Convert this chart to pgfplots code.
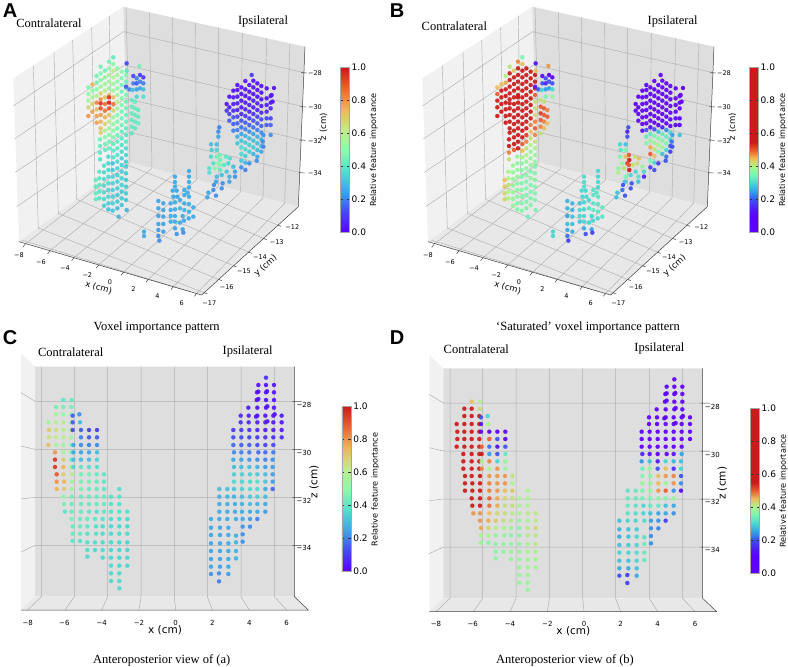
\documentclass[border=0pt]{standalone}
\usepackage{fontspec}
\setmainfont{DejaVu Sans}
\newfontfamily\capfont{Liberation Serif}
\newfontfamily\letterfont{Liberation Sans}
\usepackage{pgfplots}
\usepackage{pgfplotstable}
\pgfplotsset{compat=1.18}

\pgfplotsset{
  colormap={rainbowA}{rgb255=(90,0,255) rgb255=(70,70,250) rgb255=(60,165,230) rgb255=(80,225,205) rgb255=(140,250,170) rgb255=(195,235,140) rgb255=(240,180,90) rgb255=(235,100,50) rgb255=(205,25,25)},
  colormap={rainbowB}{rgb255=(95,0,255) rgb255=(95,0,255) rgb255=(90,0,255) rgb255=(80,30,250) rgb255=(60,80,245) rgb255=(50,160,230) rgb255=(70,215,210) rgb255=(120,245,180) rgb255=(170,245,140) rgb255=(235,190,90) rgb255=(235,90,50) rgb255=(205,25,25) rgb255=(205,25,25) rgb255=(205,25,25) rgb255=(205,25,25) rgb255=(205,25,25) rgb255=(205,25,25) rgb255=(205,25,25) rgb255=(205,25,25) rgb255=(205,25,25) rgb255=(205,25,25)},
}
\definecolor{wallL}{gray}{0.945}
\definecolor{wallB}{gray}{0.87}
\definecolor{wallF}{gray}{0.91}
\definecolor{gridc}{gray}{0.69}
\definecolor{axisc}{gray}{0.25}

% panels A and B: voxel positions on the picture, value in A, value in B
\pgfplotstableread[row sep=\\]{px py a b\\
265 262 .48 .45\\ 265 282 .5 .5\\ 265 302 .55 .55\\ 265 322 .68 .6\\ 265 348 .8 .6\\
277 253 .75 .45\\ 277 272 .5 .55\\ 277 292 .58 .6\\ 277 312 .68 .6\\ 277 335 .78 .6\\
290 228 .45 .4\\ 290 248 .45 .46\\ 290 268 .5 .6\\ 290 288 .6 .6\\ 290 308 .82 .6\\ 290 328 .72 .6\\ 290 348 .78 .6\\ 290 368 .78 .6\\
302 200 .45 .42\\ 302 220 .48 .6\\ 302 240 .5 .6\\ 302 260 .55 .6\\ 302 280 .68 .6\\ 302 298 .8 .6\\ 302 310 .95 .6\\ 302 325 .9 .6\\ 302 345 .78 .6\\ 302 365 .75 .6\\ 302 385 .72 .6\\ 302 398 .7 .6\\
315 212 .45 .44\\ 315 232 .52 .6\\ 315 252 .55 .6\\ 315 272 .6 .6\\ 315 292 .72 .6\\ 315 312 .85 .6\\ 315 332 .85 .6\\ 315 352 .75 .6\\ 315 372 .68 .6\\ 315 392 .58 .6\\ 315 412 .5 .6\\ 315 432 .45 .6\\ 315 450 .42 .5\\
327 185 .45 .48\\ 327 205 .52 .6\\ 327 225 .58 .6\\ 327 245 .55 .6\\ 327 265 .55 .6\\ 327 285 .72 .6\\ 327 292 .95 .6\\ 327 308 .98 .6\\ 327 325 .9 .6\\ 327 345 .72 .6\\ 327 365 .62 .6\\ 327 385 .55 .6\\ 327 405 .5 .6\\ 327 425 .45 .6\\ 327 445 .42 .6\\
340 172 .42 .35\\ 340 192 .5 .45\\ 340 212 .62 .6\\ 340 232 .58 .6\\ 340 252 .55 .6\\ 340 272 .55 .6\\ 340 292 .72 .6\\ 340 312 .85 .6\\ 340 332 .68 .6\\ 340 352 .55 .6\\ 340 372 .52 .6\\ 340 392 .5 .6\\ 340 412 .48 .55\\ 340 432 .42 .5\\ 340 452 .4 .45\\ 340 472 .38 .4\\
352 205 .5 .6\\ 352 225 .55 .6\\ 352 245 .5 .6\\ 352 265 .5 .6\\ 352 285 .55 .6\\ 352 305 .6 .6\\ 352 325 .55 .6\\ 352 345 .5 .6\\ 352 365 .48 .6\\ 352 385 .46 .6\\ 352 405 .44 .52\\ 352 425 .42 .48\\ 352 445 .4 .42\\ 352 465 .38 .4\\ 352 485 .36 .38\\ 352 505 .35 .38\\
365 215 .5 .6\\ 365 235 .48 .6\\ 365 255 .46 .6\\ 365 275 .45 .6\\ 365 295 .48 .6\\ 365 315 .48 .6\\ 365 335 .46 .6\\ 365 355 .45 .55\\ 365 375 .45 .48\\ 365 395 .42 .45\\ 365 415 .4 .42\\ 365 435 .38 .4\\ 365 455 .36 .38\\ 365 475 .34 .38\\ 365 495 .34 .38\\ 365 515 .34 .36\\ 365 535 .35 .38\\
378 225 .48 .6\\ 378 245 .45 .55\\ 378 265 .45 .55\\ 378 285 .46 .5\\ 378 305 .45 .42\\ 378 325 .45 .42\\ 378 345 .44 .42\\ 378 365 .44 .48\\ 378 385 .42 .5\\ 378 405 .4 .48\\ 378 425 .4 .42\\ 378 445 .36 .4\\ 378 465 .35 .38\\ 378 485 .34 .38\\
395 300 .42 .42\\ 395 320 .42 .5\\ 395 340 .42 .52\\ 395 360 .42 .5\\ 395 380 .42 .48\\ 395 400 .4 .42\\
405 305 .42 .42\\ 405 325 .42 .5\\ 405 345 .42 .5\\ 405 365 .42 .48\\ 405 385 .4 .45\\
415 330 .42 .48\\ 415 350 .42 .5\\ 415 370 .42 .45\\
380 190 .12 .12\\ 380 212 .4 .45\\ 418 198 .45 .47\\ 400 228 .12 .12\\ 410 235 .2 .2\\ 420 225 .1 .1\\ 430 232 .1 .1\\
378 260 .15 .15\\ 388 268 .2 .2\\ 400 250 .2 .2\\ 410 250 .15 .15\\ 420 245 .2 .2\\ 430 250 .2 .2\\ 398 270 .3 .3\\ 410 268 .25 .25\\ 420 265 .25 .25\\ 430 268 .3 .3\\ 410 290 .35 .35\\ 430 290 .38 .38\\
287 540 .42 .45\\ 287 560 .42 .44\\ 287 580 .42 .43\\ 287 598 .42 .43\\
300 418 .45 .6\\ 300 438 .42 .6\\ 300 458 .4 .48\\ 300 478 .38 .42\\
298 515 .4 .4\\ 298 535 .4 .4\\ 298 555 .4 .42\\ 298 575 .38 .4\\ 298 595 .38 .4\\
312 497 .37 .38\\ 312 517 .36 .38\\ 312 537 .36 .38\\ 312 557 .37 .38\\ 312 577 .36 .38\\ 312 597 .36 .38\\ 312 617 .34 .38\\
325 470 .36 .38\\ 325 490 .35 .38\\ 325 510 .36 .38\\ 325 530 .36 .38\\ 325 550 .36 .37\\ 325 570 .35 .37\\ 325 590 .35 .37\\ 325 610 .34 .36\\ 325 628 .3 .36\\
338 490 .3 .36\\ 338 510 .32 .36\\ 338 530 .35 .36\\ 338 550 .34 .36\\ 338 570 .34 .36\\ 338 590 .34 .36\\ 338 610 .34 .36\\ 338 632 .32 .36\\
352 525 .34 .37\\ 352 545 .34 .36\\ 352 565 .34 .36\\ 352 585 .33 .36\\ 352 605 .33 .36\\ 352 625 .3 .36\\ 356 650 .28 .34\\
365 555 .34 .36\\ 365 575 .33 .36\\ 365 595 .33 .36\\ 365 615 .32 .36\\
378 500 .33 .36\\ 378 520 .33 .36\\ 378 540 .33 .36\\ 378 560 .33 .36\\ 378 580 .33 .36\\ 378 600 .32 .36\\ 380 630 .28 .35\\
680 312 .04 .02\\ 680 332 .1 .03\\
688 290 .03 .02\\ 688 322 .05 .02\\ 688 342 .12 .03\\ 688 362 .15 .03\\
700 272 .03 .02\\ 700 292 .05 .02\\ 700 312 .05 .02\\ 700 332 .08 .02\\ 700 352 .14 .03\\ 700 372 .16 .05\\ 700 392 .2 .12\\
712 255 .03 .02\\ 712 270 .03 .02\\ 712 290 .04 .02\\ 712 310 .05 .02\\ 712 330 .06 .02\\ 712 350 .12 .03\\ 712 370 .16 .05\\ 712 390 .2 .2\\ 712 410 .27 .33\\ 712 430 .32 .36\\
724 262 .03 .02\\ 724 282 .03 .02\\ 724 302 .04 .02\\ 724 322 .05 .02\\ 724 342 .08 .03\\ 724 362 .14 .03\\ 724 382 .18 .12\\ 724 402 .25 .33\\ 724 422 .32 .38\\ 724 442 .36 .46\\ 724 462 .36 .5\\ 724 482 .32 .35\\ 724 502 .22 .18\\
736 243 .03 .02\\ 736 268 .03 .02\\ 736 288 .03 .02\\ 736 308 .05 .02\\ 736 328 .06 .02\\ 736 348 .1 .03\\ 736 368 .15 .03\\ 736 388 .2 .2\\ 736 408 .28 .35\\ 736 428 .33 .38\\ 736 448 .36 .42\\ 736 468 .33 .45\\ 736 488 .28 .3\\ 736 510 .2 .2\\
748 255 .03 .02\\ 748 275 .03 .02\\ 748 295 .03 .02\\ 748 315 .05 .02\\ 748 335 .06 .02\\ 748 355 .12 .03\\ 748 375 .16 .08\\ 748 395 .22 .28\\ 748 415 .3 .36\\ 748 435 .34 .4\\ 748 455 .33 .36\\ 748 490 .22 .18\\
755 225 .1 .03\\
760 242 .03 .02\\ 760 262 .03 .02\\ 760 282 .03 .02\\ 760 302 .05 .02\\ 760 322 .05 .02\\ 760 342 .09 .03\\ 760 362 .14 .03\\ 760 382 .18 .15\\ 760 402 .25 .33\\ 760 422 .3 .36\\ 760 442 .33 .38\\ 760 462 .28 .28\\
772 250 .03 .02\\ 772 270 .03 .02\\ 772 290 .03 .02\\ 772 310 .05 .02\\ 772 330 .06 .02\\ 772 350 .11 .03\\ 772 370 .15 .05\\ 772 390 .2 .24\\ 772 410 .27 .33\\ 772 430 .3 .35\\ 772 450 .3 .3\\ 772 470 .25 .22\\ 770 482 .22 .2\\
784 258 .03 .02\\ 784 278 .03 .02\\ 784 298 .04 .02\\ 784 318 .05 .02\\ 784 338 .08 .03\\ 784 358 .13 .03\\ 784 378 .16 .1\\ 784 398 .22 .3\\ 784 418 .28 .3\\ 784 438 .28 .2\\ 784 455 .25 .18\\
800 265 .03 .02\\ 800 295 .04 .02\\ 800 315 .05 .02\\ 800 335 .07 .03\\ 800 355 .12 .03\\ 800 375 .15 .08\\ 790 405 .22 .25\\ 788 425 .22 .22\\ 790 440 .2 .2\\
812 288 .04 .02\\ 812 308 .05 .02\\ 812 325 .06 .02\\ 812 355 .12 .05\\ 812 375 .16 .1\\ 812 405 .22 .28\\
822 264 .03 .02\\ 818 305 .04 .02\\ 815 285 .04 .02\\
658 382 .2 .2\\ 655 395 .22 .15\\ 655 410 .25 .2\\ 650 433 .3 .28\\ 633 433 .3 .3\\ 635 450 .33 .32\\ 650 450 .35 .35\\ 633 470 .36 .36\\ 650 470 .45 .45\\ 660 465 .45 .5\\ 661 480 .45 .58\\ 655 490 .5 .52\\ 640 490 .38 .38\\ 628 505 .38 .38\\ 628 518 .38 .4\\ 645 505 .48 .42\\ 660 495 .48 .5\\ 661 510 .42 .58\\ 672 495 .4 .42\\ 650 530 .3 .35\\ 648 545 .25 .28\\ 642 555 .22 .2\\ 665 525 .3 .3\\ 668 550 .22 .2\\ 665 565 .22 .2\\ 625 578 .25 .28\\ 622 592 .25 .28\\ 648 587 .22 .2\\ 640 570 .22 .22\\ 680 515 .32 .3\\ 688 530 .28 .32\\ 688 545 .25 .28\\ 705 530 .22 .15\\ 705 515 .25 .3\\ 685 490 .35 .42\\ 690 475 .37 .45\\ 678 470 .4 .42\\ 700 500 .3 .38\\
567 513 .26 .3\\ 567 530 .26 .3\\ 567 546 .26 .3\\ 567 562 .26 .3\\ 525 530 .26 .31\\ 525 546 .26 .31\\ 525 560 .26 .31\\
518 572 .25 .3\\ 530 572 .25 .3\\ 553 570 .26 .32\\ 563 578 .26 .32\\ 553 585 .26 .32\\ 567 590 .26 .32\\ 520 590 .25 .3\\ 532 590 .25 .3\\ 475 603 .25 .27\\ 490 610 .25 .27\\ 512 610 .26 .28\\ 525 607 .26 .3\\ 540 600 .26 .3\\ 553 610 .26 .32\\ 567 612 .27 .32\\ 580 622 .27 .33\\
475 625 .25 .27\\ 490 630 .25 .27\\ 512 630 .26 .3\\ 525 628 .26 .3\\ 540 625 .28 .32\\ 553 630 .28 .33\\ 567 635 .27 .32\\ 580 650 .26 .32\\ 548 648 .26 .3\\ 566 655 .26 .3\\
475 648 .25 .25\\ 490 650 .25 .28\\ 512 648 .26 .3\\ 525 648 .26 .3\\ 512 665 .26 .28\\ 525 665 .26 .3\\ 540 668 .26 .3\\ 552 662 .26 .3\\ 490 672 .25 .28\\ 475 672 .25 .28\\
475 690 .24 .26\\ 490 695 .24 .26\\ 525 685 .25 .26\\ 548 688 .25 .25\\ 530 702 .23 .2\\ 550 698 .22 .18\\ 432 695 .26 .3\\ 432 708 .26 .3\\ 475 708 .22 .22\\ 478 722 .22 .18\\
}\tabab

% panels C and D: positions, value in C, value in D
\pgfplotstableread[row sep=\\]{px py c d\\
190 195 .4 .45\\ 215 195 .42 .4\\
168 216 .45 .72\\ 190 216 .45 .75\\ 214 216 .45 .42\\
168 238 .55 .9\\ 190 238 .5 .9\\ 213 238 .5 .75\\ 238 238 .22 .3\\ 218 242 .15 .2\\
145 262 .55 .9\\ 168 262 .6 .9\\ 190 262 .6 .9\\ 213 262 .55 .85\\ 240 262 .3 .4\\ 218 262 .15 .15\\
147 285 .7 .9\\ 168 285 .65 .9\\ 190 285 .6 .9\\ 213 285 .6 .9\\ 218 285 .12 .12\\ 243 285 .15 .05\\ 267 285 .1 .05\\ 291 285 .1 .05\\
147 307 .65 .9\\ 168 307 .62 .9\\ 190 307 .6 .9\\ 213 307 .55 .9\\ 243 307 .2 .5\\ 267 307 .15 .2\\ 291 307 .15 .1\\
145 330 .72 .9\\ 168 330 .55 .9\\ 190 330 .55 .9\\ 213 330 .5 .9\\ 220 330 .25 .5\\ 243 330 .22 .22\\ 267 330 .2 .12\\ 291 330 .22 .2\\
165 352 .8 .9\\ 190 352 .55 .9\\ 213 352 .5 .9\\ 220 352 .25 .55\\ 243 352 .25 .25\\ 267 352 .25 .2\\ 291 352 .3 .33\\
165 374 .95 .9\\ 190 374 .7 .9\\ 213 374 .45 .9\\ 220 374 .3 .4\\ 243 374 .3 .48\\ 267 374 .3 .3\\ 291 374 .35 .38\\
165 396 .95 .9\\ 190 396 .75 .9\\ 213 396 .6 .9\\ 220 396 .35 .48\\ 243 396 .4 .4\\ 267 396 .38 .47\\ 291 396 .38 .38\\
170 418 .9 .9\\ 190 418 .7 .9\\ 215 418 .6 .9\\ 243 418 .45 .47\\ 267 418 .45 .47\\ 290 418 .42 .47\\ 312 418 .4 .42\\
170 440 .8 .9\\ 192 440 .75 .9\\ 215 440 .55 .9\\ 243 440 .45 .48\\ 267 440 .45 .47\\ 290 440 .42 .47\\ 312 440 .4 .4\\
170 462 .75 .9\\ 192 462 .7 .9\\ 215 462 .55 .9\\ 243 462 .45 .48\\ 267 462 .42 .47\\ 290 462 .42 .45\\ 312 462 .4 .44\\ 358 462 .38 .4\\
190 485 .5 .9\\ 215 485 .45 .9\\ 243 485 .42 .5\\ 267 485 .42 .46\\ 290 485 .42 .43\\ 312 485 .42 .42\\ 333 485 .38 .4\\ 358 485 .38 .4\\
192 507 .45 .6\\ 215 507 .42 .55\\ 243 507 .42 .49\\ 267 507 .42 .46\\ 290 507 .42 .42\\ 312 507 .42 .42\\ 333 507 .38 .4\\ 358 507 .38 .4\\
195 530 .4 .47\\ 215 530 .42 .47\\ 243 530 .42 .45\\ 267 530 .4 .43\\ 290 530 .38 .42\\ 312 530 .4 .41\\ 333 530 .38 .4\\ 358 530 .38 .41\\ 382 530 .38 .41\\
215 552 .45 .47\\ 240 552 .42 .46\\ 262 552 .42 .44\\ 285 552 .4 .42\\ 308 552 .38 .41\\ 333 552 .36 .38\\ 358 552 .36 .4\\ 382 552 .36 .41\\
218 574 .42 .46\\ 240 574 .42 .43\\ 262 574 .4 .41\\ 288 574 .38 .4\\ 308 574 .36 .38\\ 333 574 .35 .36\\ 358 574 .35 .41\\ 382 574 .35 .43\\
218 596 .42 .4\\ 240 596 .42 .4\\ 262 596 .38 .38\\ 288 596 .38 .38\\ 308 596 .36 .36\\ 333 596 .35 .37\\ 358 596 .36 .41\\ 382 596 .36 .41\\
218 618 .4 .38\\ 240 618 .38 .36\\ 262 622 .38 .37\\ 285 622 .37 .37\\ 308 622 .36 .37\\ 333 622 .35 .37\\ 358 622 .35 .4\\ 382 622 .35 .41\\
262 645 .37 .37\\ 285 645 .36 .37\\ 308 645 .36 .38\\ 333 645 .35 .38\\ 358 645 .35 .4\\ 382 645 .35 .4\\
262 665 .36 .37\\ 308 668 .36 .38\\ 333 668 .35 .38\\ 358 668 .35 .39\\ 382 668 .35 .39\\
333 692 .36 .38\\ 358 692 .35 .39\\ 382 692 .35 .39\\
333 715 .36 .38\\ 358 715 .36 .39\\
333 738 .36 .38\\ 358 738 .36 .38\\
358 760 .36 .38\\
798 128 .08 .02\\
775 150 .03 .02\\ 798 150 .03 .02\\ 822 150 .04 .02\\
771 172 .03 .02\\ 775 170 .03 .02\\ 798 172 .03 .02\\ 801 169 .03 .02\\ 822 172 .03 .02\\
770 195 .03 .02\\ 775 192 .03 .02\\ 798 195 .03 .02\\ 822 195 .03 .02\\
745 218 .05 .02\\ 772 218 .03 .02\\ 798 218 .03 .02\\ 802 214 .03 .02\\ 822 218 .03 .02\\
722 242 .07 .02\\ 746 242 .05 .02\\ 772 242 .04 .02\\ 796 242 .03 .02\\ 820 242 .03 .02\\ 845 242 .04 .02\\ 768 245 .04 .02\\ 824 238 .03 .02\\
722 262 .09 .02\\ 746 262 .07 .02\\ 772 262 .05 .02\\ 796 262 .04 .02\\ 802 259 .04 .02\\ 820 262 .04 .02\\ 845 262 .04 .02\\
700 285 .1 .02\\ 724 285 .1 .02\\ 748 285 .09 .02\\ 772 285 .07 .02\\ 796 285 .05 .02\\ 820 285 .05 .02\\ 845 285 .05 .02\\
700 307 .13 .02\\ 724 307 .13 .02\\ 748 307 .12 .02\\ 772 307 .1 .02\\ 796 307 .08 .02\\ 820 307 .07 .02\\ 845 307 .08 .02\\
700 330 .17 .03\\ 724 330 .16 .03\\ 748 330 .15 .03\\ 772 330 .13 .03\\ 796 330 .11 .03\\ 820 330 .12 .03\\
702 352 .21 .15\\ 724 352 .2 .12\\ 748 352 .19 .06\\ 775 352 .17 .05\\ 796 352 .17 .12\\ 820 352 .19 .25\\
700 374 .26 .24\\ 724 374 .25 .28\\ 748 374 .24 .14\\ 772 374 .22 .3\\ 796 374 .2 .27\\ 818 374 .22 .28\\
702 396 .3 .34\\ 724 396 .3 .38\\ 748 396 .3 .2\\ 772 396 .28 .45\\ 796 396 .24 .16\\ 818 396 .24 .3\\
702 418 .34 .36\\ 726 418 .34 .37\\ 750 418 .34 .45\\ 772 418 .33 .47\\ 796 418 .3 .48\\ 818 418 .24 .2\\
702 440 .36 .38\\ 726 440 .35 .38\\ 750 440 .36 .45\\ 772 440 .38 .38\\ 796 440 .32 .47\\ 818 440 .24 .24\\
658 462 .3 .32\\ 682 462 .3 .33\\ 702 462 .32 .35\\ 726 462 .34 .38\\ 750 462 .36 .47\\ 772 462 .36 .5\\ 796 462 .26 .24\\ 818 462 .16 .12\\
658 485 .27 .33\\ 682 485 .28 .33\\ 702 485 .28 .34\\ 726 485 .3 .35\\ 750 485 .32 .37\\ 772 485 .34 .36\\ 796 485 .3 .38\\
658 507 .27 .33\\ 682 507 .27 .32\\ 705 507 .26 .3\\ 726 507 .28 .33\\ 750 507 .3 .33\\ 772 507 .28 .28\\ 796 507 .26 .26\\
658 530 .26 .32\\ 682 530 .26 .31\\ 705 530 .26 .3\\ 726 530 .26 .28\\ 750 530 .26 .26\\ 772 530 .26 .26\\ 796 530 .24 .24\\
633 552 .26 .28\\ 658 552 .26 .3\\ 682 552 .26 .3\\ 708 552 .27 .31\\ 728 552 .25 .25\\ 750 552 .24 .24\\ 772 552 .2 .18\\
633 578 .25 .27\\ 660 578 .25 .28\\ 685 578 .26 .29\\ 728 575 .23 .24\\ 750 575 .22 .23\\
633 600 .25 .26\\ 660 600 .25 .28\\ 685 600 .26 .3\\ 708 602 .28 .32\\ 728 598 .22 .24\\
633 625 .25 .28\\ 660 625 .25 .29\\ 685 625 .26 .3\\ 708 622 .28 .33\\ 728 620 .22 .24\\
633 648 .25 .3\\ 660 648 .25 .3\\ 685 648 .26 .31\\ 708 648 .28 .33\\
633 672 .25 .28\\ 660 672 .25 .28\\ 685 672 .26 .3\\ 708 670 .28 .33\\
633 695 .25 .26\\ 660 695 .24 .26\\ 685 695 .26 .28\\
633 717 .23 .2\\ 657 715 .22 .18\\ 685 717 .24 .26\\
657 739 .2 .18\\
}\tabcd

% 3D box A/B, segments split by nan
\pgfplotstableread[row sep=\\]{x y\\
378 22\\ 390 487\\ nan nan\\ 448 37\\ 456 505\\ nan nan\\ 517 52\\ 522 522\\ nan nan\\ 587 68\\ 589 540\\ nan nan\\ 656 83\\ 656 558\\ nan nan\\ 727 99\\ 722 576\\ nan nan\\ 800 115\\ 789 594\\ nan nan\\ 870 130\\ 854 610\\ nan nan\\
40 318\\ 371 95\\ 913 218\\ nan nan\\ 43 417\\ 374 195\\ 909 320\\ nan nan\\ 46 517\\ 376 295\\ 907 420\\ nan nan\\ 50 620\\ 380 395\\ 902 518\\ nan nan\\
100 197\\ 115 684\\ 612 878\\ nan nan\\ 162 155\\ 175 640\\ 655 838\\ nan nan\\ 218 120\\ 230 598\\ 700 797\\ nan nan\\ 275 82\\ 285 560\\ 745 756\\ nan nan\\ 328 48\\ 335 520\\ 790 715\\ nan nan\\ 65 720\\ 570 875\\ nan nan\\ 370 490\\ 833 675\\ nan nan\\
75 733\\ 390 487\\ nan nan\\ 150 752\\ 456 505\\ nan nan\\ 222 773\\ 522 522\\ nan nan\\ 296 795\\ 589 540\\ nan nan\\ 370 817\\ 656 558\\ nan nan\\ 445 838\\ 722 576\\ nan nan\\ 520 860\\ 789 594\\ nan nan\\ 590 880\\ 854 610\\
}\gridab
\pgfplotstableread[row sep=\\]{x y\\
57 725\\ 605 885\\ 895 620\\ 915 140\\ nan nan\\ 903 218\\ 920 219\\ nan nan\\ 901 320\\ 918 321\\ nan nan\\ 899 420\\ 916 421\\ nan nan\\ 897 518\\ 914 519\\ nan nan\\
75 733\\ 68 742\\ nan nan\\ 150 752\\ 143 761\\ nan nan\\ 222 773\\ 215 782\\ nan nan\\ 296 795\\ 289 804\\ nan nan\\ 370 817\\ 363 826\\ nan nan\\ 445 838\\ 438 847\\ nan nan\\ 520 860\\ 513 869\\ nan nan\\ 590 880\\ 583 889\\ nan nan\\
612 878\\ 622 882\\ nan nan\\ 655 838\\ 665 842\\ nan nan\\ 700 797\\ 710 801\\ nan nan\\ 745 756\\ 755 760\\ nan nan\\ 790 715\\ 800 719\\ nan nan\\ 833 675\\ 843 679\\
}\axab
% box C/D
\pgfplotstableread[row sep=\\]{x y\\
125 95\\ 125 785\\ 83 825\\ nan nan\\ 223 95\\ 223 785\\ 195 825\\ nan nan\\ 323 95\\ 323 785\\ 305 825\\ nan nan\\ 423 95\\ 423 785\\ 417 825\\ nan nan\\ 523 95\\ 523 785\\ 527 825\\ nan nan\\ 622 95\\ 622 785\\ 637 825\\ nan nan\\ 723 95\\ 723 785\\ 748 825\\ nan nan\\ 823 95\\ 823 785\\ 860 825\\ nan nan\\
63 173\\ 105 199\\ 883 199\\ nan nan\\ 63 333\\ 105 343\\ 883 343\\ nan nan\\ 63 492\\ 105 487\\ 883 487\\ nan nan\\ 63 651\\ 105 631\\ 883 631\\
}\gridcd
\pgfplotstableread[row sep=\\]{x y\\
63 825\\ 925 825\\ 883 785\\ 883 95\\ nan nan\\ 877 199\\ 905 199\\ nan nan\\ 877 343\\ 905 343\\ nan nan\\ 877 487\\ 905 487\\ nan nan\\ 877 631\\ 905 631\\
}\axcd

\newcommand{\fs}[1]{\fontsize{#1}{#1}\selectfont}
\tikzset{
  tk/.style={font=\fs{6.5}, inner sep=0pt},
  lb/.style={font=\fs{8.5}, inner sep=0pt},
  captxt/.style={font=\capfont\fs{12.5}, inner sep=0pt},
}
\pgfplotsset{
  panel/.style={
    scale only axis, width=400pt, height=335pt, anchor=north west,
    xmin=0, xmax=1200, ymin=0, ymax=1005, y dir=reverse,
    hide axis, clip=false, unbounded coords=jump,
    point meta min=0, point meta max=1,
    colorbar, 
    colorbar style={
      at={(parent axis.north west)}, anchor=north west, width=9pt, height=165pt,
      ytick={0,0.2,0.4,0.6,0.8,1}, ylabel={},
      /pgf/number format/fixed, /pgf/number format/fixed zerofill, /pgf/number format/precision=1,
      /pgf/number format/assume math mode=true,
      tick label style={font=\fs{9}},
      major tick length=2.5pt, tick style={black!80, line width=.4pt},
      yticklabel style={xshift=-1pt},
      axis line style={gray!70, line width=.5pt},
    },
  },
  voxel/.style={scatter, only marks, mark=*, mark size=2.1pt, scatter src=explicit,
    scatter/use mapped color={draw=mapped color, fill=mapped color},
    mark options={line width=.1pt, line join=round}, opacity=.92},
}

\newcommand{\panelab}[5]{%
\begin{axis}[panel, at={(#1)}, colormap name=#2,
  colorbar style={xshift=331.67pt,yshift=-67.67pt}]
\addplot[fill=wallL, draw=none] coordinates {(40,235)(370,20)(382,485)(57,725)(40,235)};
\addplot[fill=wallB, draw=none] coordinates {(370,20)(915,140)(895,620)(382,485)(370,20)};
\addplot[fill=wallF, draw=none] coordinates {(57,725)(382,485)(895,620)(605,885)(57,725)};
\addplot[gridc, line width=.45pt] table[x=x,y=y] {\gridab};
\addplot[axisc, line width=.5pt] table[x=x,y=y] {\axab};
\addplot[voxel] table[x=px,y=py,meta=#3] {\tabab};
\node[tk] at (axis cs:57,765) {−8};
\node[tk] at (axis cs:123,785) {−6};
\node[tk] at (axis cs:195,805) {−4};
\node[tk] at (axis cs:262,825) {−2};
\node[tk] at (axis cs:330,845) {0};
\node[tk] at (axis cs:400,866) {2};
\node[tk] at (axis cs:472,887) {4};
\node[tk] at (axis cs:545,908) {6};
\node[tk] at (axis cs:628,908) {−17};
\node[tk] at (axis cs:680,862) {−16};
\node[tk] at (axis cs:732,815) {−15};
\node[tk] at (axis cs:780,770) {−14};
\node[tk] at (axis cs:830,725) {−13};
\node[tk] at (axis cs:877,682) {−12};
\node[tk] at (axis cs:945,220) {−28};
\node[tk] at (axis cs:945,322) {−30};
\node[tk] at (axis cs:945,422) {−32};
\node[tk] at (axis cs:945,520) {−34};
\node[lb, rotate=-16] at (axis cs:296,863) {x (cm)};
\node[lb, rotate=42] at (axis cs:797,798) {y (cm)};
\node[lb, rotate=90] at (axis cs:970,380) {z (cm)};
\node[font=\fs{8.1}, inner sep=0pt, rotate=90] at (axis cs:1122,450) {Relative feature importance};
#4
#5
\end{axis}}

\newcommand{\panelcd}[5]{%
\begin{axis}[panel, at={(#1)}, colormap name=#2,
  colorbar style={xshift=333.33pt,yshift=-71.33pt}]
\addplot[fill=wallL, draw=none] coordinates {(63,55)(105,95)(105,785)(63,825)(63,55)};
\addplot[fill=wallB, draw=none] coordinates {(105,95)(883,95)(883,785)(105,785)(105,95)};
\addplot[fill=wallF, draw=none] coordinates {(63,825)(105,785)(883,785)(925,825)(63,825)};
\addplot[gridc, line width=.5pt] table[x=x,y=y] {\gridcd};
\addplot[axisc, line width=.5pt] table[x=x,y=y] {\axcd};
\addplot[voxel] table[x=px,y=py,meta=#3] {\tabcd};
\node[tk,font=\fs{7}] at (axis cs:83,863) {−8};
\node[tk,font=\fs{7}] at (axis cs:193,863) {−6};
\node[tk,font=\fs{7}] at (axis cs:305,863) {−4};
\node[tk,font=\fs{7}] at (axis cs:417,863) {−2};
\node[tk,font=\fs{7}] at (axis cs:527,863) {0};
\node[tk,font=\fs{7}] at (axis cs:637,863) {2};
\node[tk,font=\fs{7}] at (axis cs:748,863) {4};
\node[tk,font=\fs{7}] at (axis cs:860,863) {6};
\node[tk,font=\fs{7}] at (axis cs:912,211) {−28};
\node[tk,font=\fs{7}] at (axis cs:912,354) {−30};
\node[tk,font=\fs{7}] at (axis cs:912,497) {−32};
\node[tk,font=\fs{7}] at (axis cs:912,639) {−34};
\node[font=\fs{10.5}, inner sep=0pt] at (axis cs:495,885) {x (cm)};
\node[font=\fs{10.5}, inner sep=0pt, rotate=90] at (axis cs:942,440) {z (cm)};
\node[font=\fs{8.1}, inner sep=0pt, rotate=90] at (axis cs:1126,463) {Relative feature importance};
#4
#5
\end{axis}}

\begin{document}
\begin{tikzpicture}[x=1pt,y=1pt]
\path[use as bounding box] (0,0) rectangle (788,-667);
\panelab{0pt,0pt}{rainbowA}{a}
  {\node[captxt] at (axis cs:147,70) {Contralateral};
   \node[captxt] at (axis cs:789,63) {Ipsilateral};}
  {\node[captxt] at (axis cs:470,982) {Voxel importance pattern};}
\panelab{409pt,0pt}{rainbowB}{b}
  {\node[captxt] at (axis cs:136,78) {Contralateral};
   \node[captxt] at (axis cs:791,63) {Ipsilateral};}
  {\node[captxt] at (axis cs:537,982) {‘Saturated’ voxel importance pattern};}
\panelcd{0pt,-335pt}{rainbowA}{c}
  {\node[captxt] at (axis cs:212,52) {Contralateral};
   \node[captxt] at (axis cs:743,50) {Ipsilateral};}
  {\node[captxt] at (axis cs:485,977) {Anteroposterior view of (a)};}
\panelcd{408.33pt,-336.67pt}{rainbowB}{d}
  {\node[captxt] at (axis cs:204,39) {Contralateral};
   \node[captxt] at (axis cs:753,36) {Ipsilateral};}
  {\node[captxt] at (axis cs:470,972) {Anteroposterior view of (b)};}
\node[font=\letterfont\bfseries\fs{20}, inner sep=0pt] at (10,-11) {A};
\node[font=\letterfont\bfseries\fs{20}, inner sep=0pt] at (397,-11) {B};
\node[font=\letterfont\bfseries\fs{20}, inner sep=0pt] at (10,-338) {C};
\node[font=\letterfont\bfseries\fs{20}, inner sep=0pt] at (397,-338) {D};
\end{tikzpicture}
\end{document}
